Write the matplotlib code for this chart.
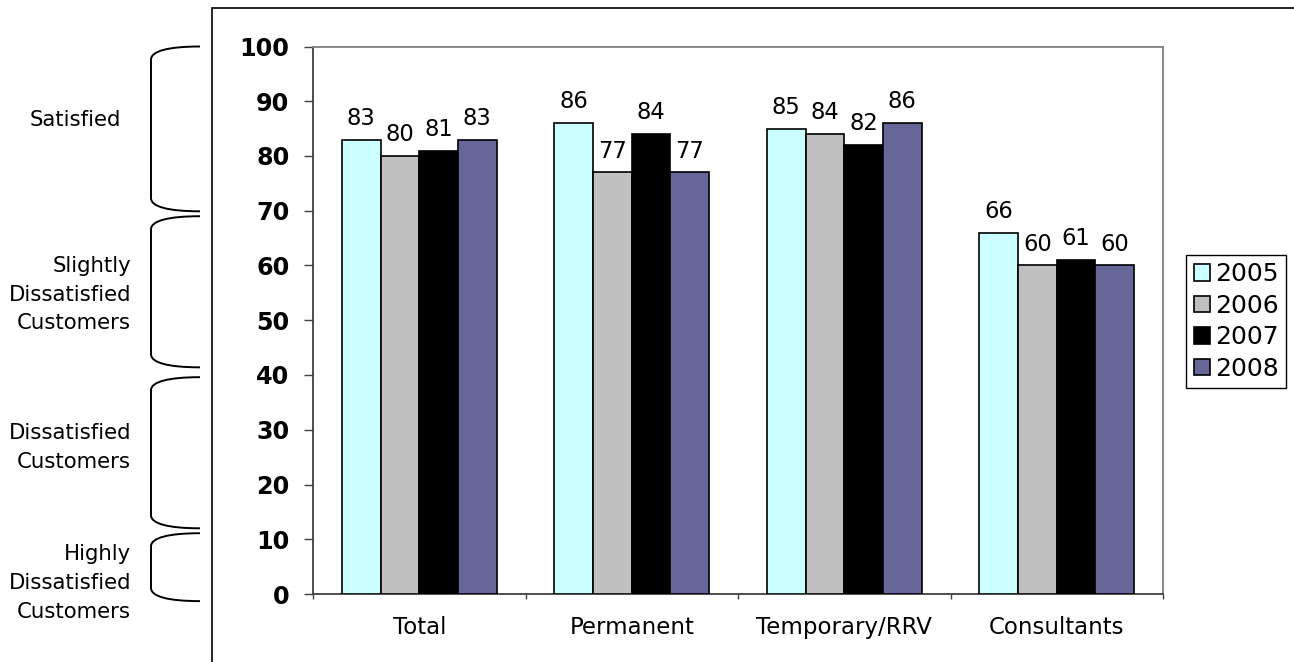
import matplotlib
matplotlib.use("Agg")
import matplotlib.pyplot as plt
import numpy as np
from matplotlib.path import Path
from matplotlib.patches import PathPatch, Rectangle
from matplotlib.transforms import blended_transform_factory

plt.rcParams['font.family'] = ['DejaVu Sans']

categories = ["Total", "Permanent", "Temporary/RRV", "Consultants"]
years = ["2005", "2006", "2007", "2008"]
values_2005 = [83, 86, 85, 66]
values_2006 = [80, 77, 84, 60]
values_2007 = [81, 84, 82, 61]
values_2008 = [83, 77, 86, 60]
series = [values_2005, values_2006, values_2007, values_2008]
colors = ["#CCFFFF", "#C0C0C0", "#000000", "#666699"]

# satisfaction bands shown beside the value axis (label, top, bottom)
band_labels = ["Satisfied", "Slightly\nDissatisfied\nCustomers",
               "Dissatisfied\nCustomers", "Highly\nDissatisfied\nCustomers"]
band_tops = [100, 69.0, 39.6, 11.1]
band_bottoms = [69.9, 41.4, 12.0, -1.3]
band_label_y = [86.5, 54.7, 26.8, 2.0]
band_label_x = [0.0935, 0.1012, 0.1012, 0.1012]

W, H = 1294, 662
fig = plt.figure(figsize=(W / 100, H / 100), dpi=100)
ax = fig.add_axes([313 / W, 1 - 594 / H, (1163 - 313) / W, (594 - 46.5) / H])

x = np.arange(len(categories))
width = 0.182
for i, (vals, col, yr) in enumerate(zip(series, colors, years)):
    bars = ax.bar(x + (i - 1.5) * width, vals, width, color=col,
                  edgecolor="black", linewidth=1.2, label=yr, zorder=3)
    ax.bar_label(bars, labels=[str(v) for v in vals], padding=7,
                 fontsize=16.3, color="black")

ax.set_xlim(-0.5, len(categories) - 0.5)
ax.set_ylim(0, 100)
ax.set_yticks(np.arange(0, 101, 10))
ax.tick_params(axis="y", length=6.5, width=1, color="#404040", pad=10.5,
               labelsize=17.2)
for lbl in ax.get_yticklabels():
    lbl.set_fontweight("bold")

ax.set_xticks(np.arange(-0.5, len(categories), 1.0))
ax.set_xticklabels([])
ax.set_xticks(x, minor=True)
ax.set_xticklabels(categories, minor=True, fontsize=16.5)
ax.tick_params(axis="x", which="major", length=3.6, width=1, color="#404040")
ax.tick_params(axis="x", which="minor", length=0, pad=15.5)

for side in ["left", "bottom"]:
    ax.spines[side].set_color("#404040")
    ax.spines[side].set_linewidth(1.3)
for side in ["top", "right"]:
    ax.spines[side].set_color("#808080")
    ax.spines[side].set_linewidth(1.3)

leg = ax.legend(loc="center left", bbox_to_anchor=(1186 / W, 1 - 321.5 / H),
                bbox_transform=fig.transFigure, fontsize=18,
                frameon=True, fancybox=False, framealpha=1,
                edgecolor="black", handlelength=0.65, handleheight=0.65,
                handletextpad=0.2, labelspacing=0.3, borderpad=0.3,
                borderaxespad=0)
leg.get_frame().set_linewidth(1.0)

# chart area border
fig.patches.append(Rectangle((212 / W, -0.1), 1.0, 0.1 + 1 - 8 / H,
                             transform=fig.transFigure, fill=False,
                             edgecolor="black", linewidth=1.2))

# curly brackets for the satisfaction bands
trans = blended_transform_factory(fig.transFigure, ax.transData)
x_line = 151 / W
x_end = 200 / W
dx = x_end - x_line
r = 2.4
for top, bot in zip(band_tops, band_bottoms):
    verts = [(x_end, top), (x_line + dx * 0.35, top), (x_line, top - r * 0.35), (x_line, top - r),
             (x_line, bot + r),
             (x_line, bot + r * 0.35), (x_line + dx * 0.35, bot), (x_end, bot)]
    codes = [Path.MOVETO, Path.CURVE4, Path.CURVE4, Path.CURVE4,
             Path.LINETO,
             Path.CURVE4, Path.CURVE4, Path.CURVE4]
    fig.patches.append(PathPatch(Path(verts, codes), transform=trans,
                                 fill=False, edgecolor="black", linewidth=1.4,
                                 clip_on=False))

for lab, ly, lx in zip(band_labels, band_label_y, band_label_x):
    fig.text(lx, ly, lab, transform=trans, ha="right", va="center",
             multialignment="right", fontsize=15.3, linespacing=1.55)

fig.savefig("out.png", dpi=100)
